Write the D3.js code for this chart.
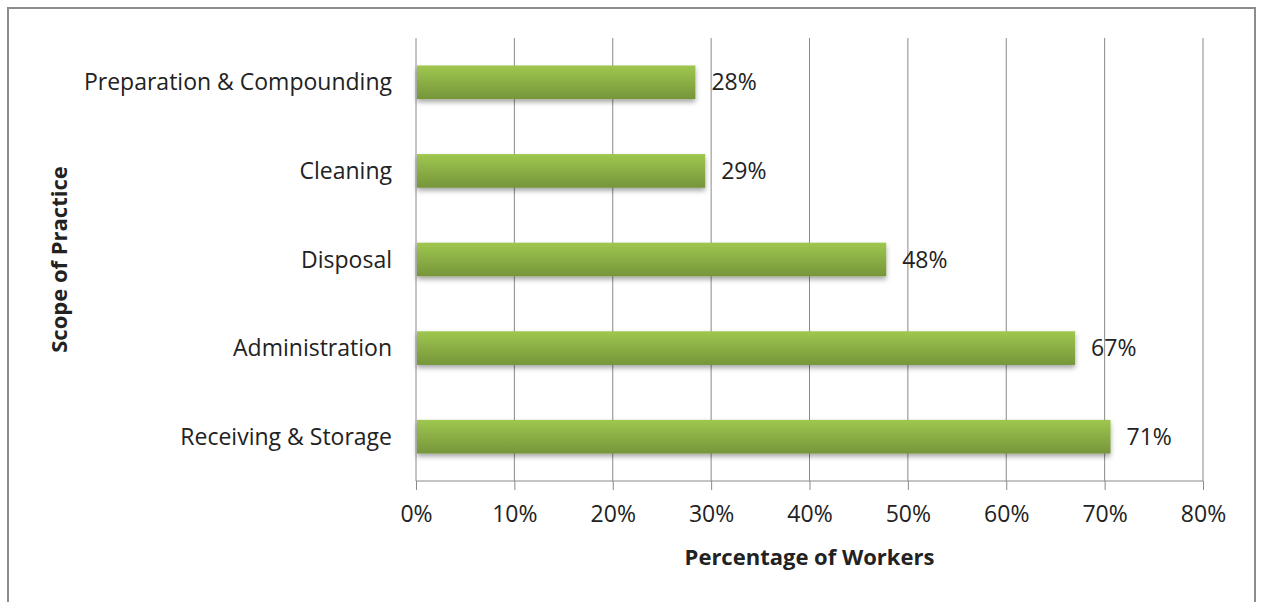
<!DOCTYPE html>
<html>
<head>
<meta charset="utf-8">
<script src="https://cdn.jsdelivr.net/npm/d3@7"></script>
<style>
  body { margin: 0; background: #fff; }
  text { font-family: "Open Sans", sans-serif; fill: #222; }
</style>
</head>
<body>
<script>
// scope of practice categories, top to bottom
const categories = ["Preparation & Compounding", "Cleaning", "Disposal", "Administration", "Receiving & Storage"]
const values = [28.4, 29.4, 47.8, 67.0, 70.6]
const valueLabels = ["28%", "29%", "48%", "67%", "71%"]
const xTicks = [0, 10, 20, 30, 40, 50, 60, 70, 80]

const W = 1262, H = 602
const margin = {left: 416, right: 59, top: 38, bottom: 121}

const svg = d3.select("body").append("svg")
    .attr("width", W)
    .attr("height", H)

const defs = svg.append("defs")
const grad = defs.append("linearGradient")
    .attr("id", "barFill")
    .attr("x1", 0).attr("y1", 0).attr("x2", 0).attr("y2", 1)
grad.append("stop").attr("offset", "0%").attr("stop-color", "#9fc74f")
grad.append("stop").attr("offset", "100%").attr("stop-color", "#76953a")

const shadow = defs.append("filter").attr("id", "shadow")
    .attr("x", "-5%").attr("y", "-20%").attr("width", "110%").attr("height", "160%")
shadow.append("feDropShadow")
    .attr("dx", 0).attr("dy", 3).attr("stdDeviation", 2.5)
    .attr("flood-color", "#000").attr("flood-opacity", 0.35)

// outer frame
svg.append("rect")
    .attr("x", 8).attr("y", 8)
    .attr("width", 1247).attr("height", 620)
    .attr("fill", "none")
    .attr("stroke", "#8c8c8c")
    .attr("stroke-width", 2)

const x = d3.scaleLinear().domain([0, 80]).range([margin.left, W - margin.right])
const y = d3.scaleBand().domain(categories).range([margin.top, H - margin.bottom]).paddingInner(0.62).paddingOuter(0.31)

// vertical gridlines
svg.append("g").selectAll("line")
    .data(xTicks)
    .join("line")
    .attr("x1", d => x(d)).attr("x2", d => x(d))
    .attr("y1", margin.top).attr("y2", H - margin.bottom)
    .attr("stroke", "#8a8a8a")
    .attr("stroke-width", 1)

// x axis
const xAxis = svg.append("g")
    .attr("transform", `translate(0,${H - margin.bottom})`)
    .call(d3.axisBottom(x).tickValues(xTicks).tickFormat(d => d + "%").tickSize(9).tickPadding(16))
xAxis.select(".domain").attr("stroke", "#8a8a8a").attr("d", `M${x(0)},0H${x(80)}`)
xAxis.selectAll(".tick line").attr("stroke", "#8a8a8a")
xAxis.selectAll("text").style("font-size", "23px").style("font-family", "Open Sans, sans-serif").attr("fill", "#222")

// bars
svg.append("g").selectAll("rect")
    .data(categories)
    .join("rect")
    .attr("x", x(0) + 1)
    .attr("y", d => y(d))
    .attr("width", (d, i) => x(values[i]) - x(0) - 1)
    .attr("height", y.bandwidth())
    .attr("fill", "url(#barFill)")
    .attr("filter", "url(#shadow)")

// value labels
svg.append("g").selectAll("text")
    .data(categories)
    .join("text")
    .attr("x", (d, i) => x(values[i]) + 16)
    .attr("y", d => y(d) + y.bandwidth() / 2)
    .attr("dy", "0.35em")
    .style("font-size", "23px")
    .text((d, i) => valueLabels[i])

// category labels
svg.append("g").selectAll("text")
    .data(categories)
    .join("text")
    .attr("x", x(0) - 24)
    .attr("y", d => y(d) + y.bandwidth() / 2)
    .attr("dy", "0.35em")
    .attr("text-anchor", "end")
    .style("font-size", "23px")
    .text(d => d)

// axis titles
svg.append("text")
    .attr("x", x(40))
    .attr("y", 565)
    .attr("text-anchor", "middle")
    .style("font-size", "22px")
    .style("font-weight", "bold")
    .text("Percentage of Workers")

svg.append("text")
    .attr("transform", `translate(67,${(margin.top + H - margin.bottom) / 2}) rotate(-90)`)
    .attr("text-anchor", "middle")
    .style("font-size", "22px")
    .style("font-weight", "bold")
    .text("Scope of Practice")
</script>
</body>
</html>
